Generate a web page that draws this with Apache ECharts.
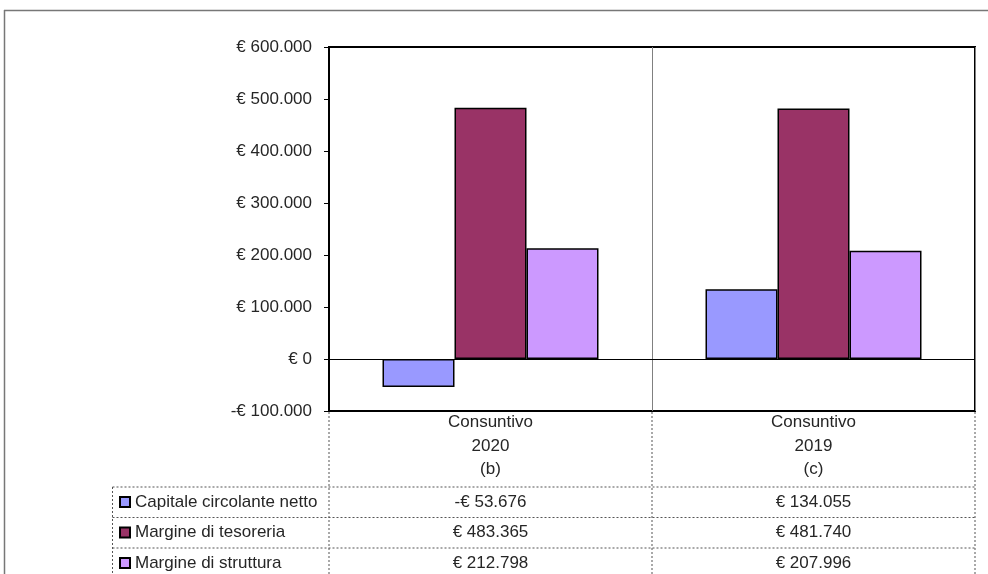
<!DOCTYPE html>
<html>
<head>
<meta charset="utf-8">
<script src="https://cdn.jsdelivr.net/npm/echarts@6/dist/echarts.min.js"></script>
<style>
html,body{margin:0;padding:0;background:#fff;}
#c{width:988px;height:574px;}
</style>
</head>
<body>
<div id="c"></div>
<script>
const categories = ['Consuntivo\n2020\n(b)', 'Consuntivo\n2019\n(c)'];
const seriesNames = ['Capitale circolante netto', 'Margine di tesoreria', 'Margine di struttura'];
const capitaleCircolante = [-53676, 134055];
const margineTesoreria = [483365, 481740];
const margineStruttura = [212798, 207996];
const yTicks = { min: -100000, max: 600000, interval: 100000 };
const colors = ['#9999FF', '#993366', '#CC99FF'];

const seriesData = [capitaleCircolante, margineTesoreria, margineStruttura];

function fmt(v) {
  const s = String(Math.abs(Math.round(v))).replace(/\B(?=(\d{3})+(?!\d))/g, '.');
  return (v < 0 ? '-€ ' : '€ ') + s;
}

const G = { left: 329, top: 47, right: 13, bottom: 163 };
const W = 988, H = 574;
const gx0 = G.left, gx1 = W - G.right, gy1 = H - G.bottom;
const gmid = (gx0 + gx1) / 2;
const rowLines = [487, 517.5, 548];
const rowOffsets = [81, 111.5, 142];
const FONT = 'Liberation Sans';
const TXT = '#262626';
const TFS = 17;
const dash = { stroke: '#555', lineWidth: 1, lineDash: [2, 2] };

const chart = echarts.init(document.getElementById('c'), null, { renderer: 'canvas' });

const xAxes = [{
  type: 'category', gridIndex: 0, data: categories, position: 'bottom',
  axisLine: { onZero: false, show: false },
  axisTick: { show: false },
  splitLine: { show: true, lineStyle: { color: '#808080', width: 1 } },
  axisLabel: { fontFamily: FONT, fontSize: TFS, color: TXT, lineHeight: 23.5, margin: 0, interval: 0 }
}];
seriesData.forEach((arr, k) => {
  xAxes.push({
    type: 'category', gridIndex: 0, data: categories, position: 'bottom', offset: rowOffsets[k],
    axisLine: { show: false, onZero: false }, axisTick: { show: false }, splitLine: { show: false },
    axisLabel: { fontFamily: FONT, fontSize: TFS, color: TXT, lineHeight: 20, margin: 0, interval: 0,
      formatter: (val, idx) => fmt(arr[idx]) }
  });
});

const legends = seriesNames.map((name, k) => ({
  orient: 'vertical', left: 119, top: rowLines[k] + 5, padding: 0,
  itemWidth: 10, itemHeight: 10, icon: 'rect', selectedMode: false,
  textStyle: { fontFamily: FONT, fontSize: TFS, color: TXT, lineHeight: 20 },
  data: [name]
}));

chart.setOption({
  animation: false,
  backgroundColor: '#fff',
  color: colors,
  grid: { left: G.left, top: G.top, right: G.right, bottom: G.bottom, show: true, borderColor: '#000', borderWidth: 2, containLabel: false },
  legend: legends,
  xAxis: xAxes,
  yAxis: {
    type: 'value', min: yTicks.min, max: yTicks.max, interval: yTicks.interval,
    axisLine: { show: true, lineStyle: { color: '#000', width: 2 } },
    axisTick: { show: true, length: 5, lineStyle: { color: '#000', width: 1 } },
    splitLine: { show: false },
    axisLabel: { fontFamily: FONT, fontSize: 17, color: TXT, margin: 17, formatter: v => fmt(v) }
  },
  series: seriesData.map((arr, k) => ({
    name: seriesNames[k], type: 'bar', data: arr, barWidth: 72, barGap: '0%',
    itemStyle: { color: colors[k], borderColor: '#000', borderWidth: 1.5 },
    markLine: k === 0 ? {
      silent: true, symbol: 'none', label: { show: false },
      lineStyle: { color: '#000', width: 1, type: 'solid' },
      data: [{ yAxis: 0 }]
    } : undefined
  })),
  graphic: [
    { type: 'line', shape: { x1: 4, y1: 10.5, x2: W, y2: 10.5 }, style: { stroke: '#777', lineWidth: 1.5 } },
    { type: 'line', shape: { x1: 4.5, y1: 10, x2: 4.5, y2: H }, style: { stroke: '#777', lineWidth: 1.5 } },
    { type: 'line', shape: { x1: gx0, y1: gy1 + 1, x2: gx0, y2: H }, style: dash },
    { type: 'line', shape: { x1: gmid, y1: gy1 + 1, x2: gmid, y2: H }, style: dash },
    { type: 'line', shape: { x1: gx1, y1: gy1 + 1, x2: gx1, y2: H }, style: dash },
    { type: 'line', shape: { x1: 112.5, y1: rowLines[0], x2: 112.5, y2: H }, style: dash },
    ...rowLines.map(y => ({ type: 'line', shape: { x1: 112.5, y1: y, x2: gx1, y2: y }, style: dash }))
  ]
});
</script>
</body>
</html>
